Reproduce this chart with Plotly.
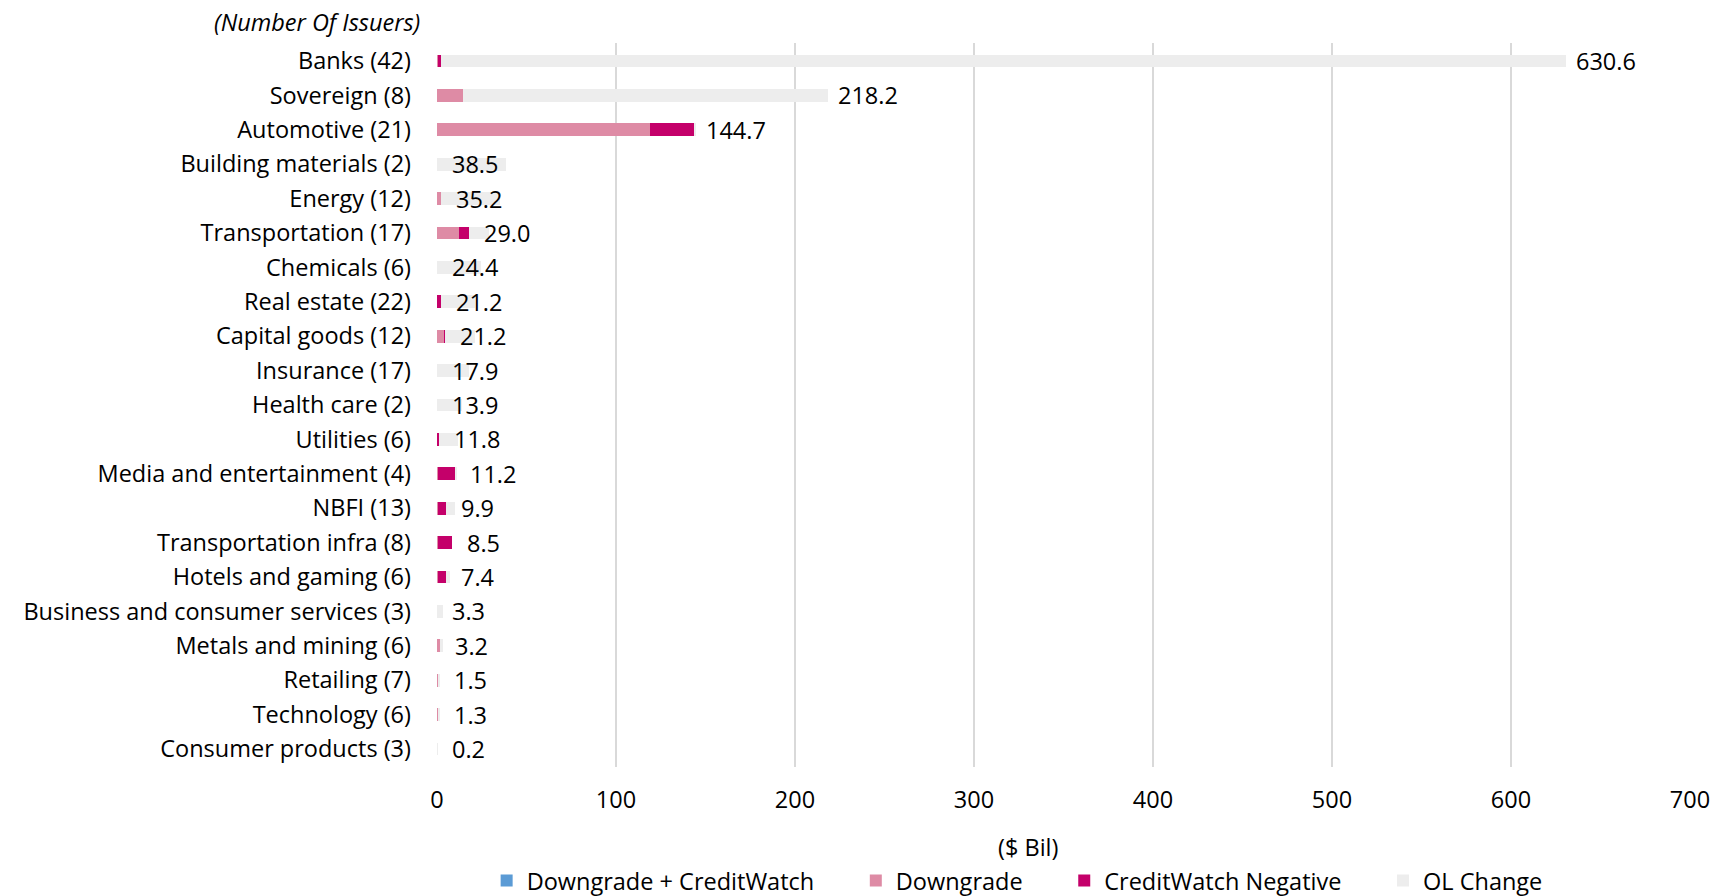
import plotly.graph_objects as go

categories = [
    "Banks (42)", "Sovereign (8)", "Automotive (21)", "Building materials (2)",
    "Energy (12)", "Transportation (17)", "Chemicals (6)", "Real estate (22)",
    "Capital goods (12)", "Insurance (17)", "Health care (2)", "Utilities (6)",
    "Media and entertainment (4)", "NBFI (13)", "Transportation infra (8)",
    "Hotels and gaming (6)", "Business and consumer services (3)",
    "Metals and mining (6)", "Retailing (7)", "Technology (6)",
    "Consumer products (3)",
]
series_names = ["Downgrade + CreditWatch", "Downgrade", "CreditWatch Negative", "OL Change"]
downgrade_cw = [0.0] * 21
downgrade = [0.8, 14.7, 119.0, 0.0, 2.2, 12.5, 0.0, 0.0, 4.0, 0.0, 0.0, 0.0,
             0.8, 0.5, 0.3, 0.8, 0.0, 1.9, 1.0, 1.0, 0.0]
cw_negative = [1.6, 0.0, 24.8, 0.0, 0.0, 5.2, 0.0, 2.0, 0.5, 0.0, 0.0, 1.3,
               9.5, 4.5, 8.2, 4.5, 0.0, 0.0, 0.0, 0.0, 0.0]
ol_change = [628.2, 203.5, 0.9, 38.5, 33.0, 11.3, 24.4, 19.2, 16.7, 17.9, 13.9,
             10.5, 0.9, 4.9, 0.0, 2.1, 3.3, 1.3, 0.5, 0.3, 0.2]
totals = [630.6, 218.2, 144.7, 38.5, 35.2, 29.0, 24.4, 21.2, 21.2, 17.9, 13.9,
          11.8, 11.2, 9.9, 8.5, 7.4, 3.3, 3.2, 1.5, 1.3, 0.2]
x_ticks = [0, 100, 200, 300, 400, 500, 600, 700]

FONT = "Open Sans"
FS = 23.5
series_colors = ["#5B9BD5", "#DE8BA5", "#C4006A", "#EDEDED"]

fig = go.Figure()
all_vals = [downgrade_cw, downgrade, cw_negative, ol_change]
for i, (name, vals, col) in enumerate(zip(series_names, all_vals, series_colors)):
    pad = "\u00a0" * 6 if i < len(series_names) - 1 else ""
    fig.add_trace(go.Bar(y=categories, x=vals, name=name + pad, orientation="h",
                         marker=dict(color=col, line=dict(width=0))))

annotations = []
for cat, tot, d, c in zip(categories, totals, downgrade, cw_negative):
    big = tot > 100
    base = tot if big else d + c
    annotations.append(dict(x=base, y=cat, xref="x", yref="y", text=f"{tot:.1f}",
                            showarrow=False, xanchor="left", xshift=8 if big else 13,
                            font=dict(family=FONT, size=FS, color="#000000")))
annotations.append(dict(x=-0.012, y=1.029, xref="paper", yref="paper",
                        text="<i>(Number Of Issuers)</i>", showarrow=False,
                        xanchor="right", yanchor="middle",
                        font=dict(family=FONT, size=FS, color="#000000")))
annotations.append(dict(x=0.472, y=-0.110, xref="paper", yref="paper",
                        text="($ Bil)", showarrow=False,
                        xanchor="center", yanchor="middle",
                        font=dict(family=FONT, size=FS, color="#000000")))

fig.update_layout(
    barmode="stack",
    bargap=0.63,
    width=1719, height=896,
    margin=dict(l=437, r=29, t=43, b=129, autoexpand=False),
    paper_bgcolor="white", plot_bgcolor="white",
    font=dict(family=FONT, size=FS, color="#000000"),
    annotations=annotations,
    legend=dict(orientation="h", x=0.463, y=-0.157, xanchor="center",
                yanchor="middle", font=dict(family=FONT, size=FS),
                traceorder="normal", itemwidth=30),
    showlegend=True,
)
fig.update_xaxes(range=[0, 700], tickvals=x_ticks, showgrid=True,
                 gridcolor="#D9D9D9", gridwidth=2, zeroline=False,
                 showline=False, ticks="", ticklabelstandoff=16,
                 tickfont=dict(family=FONT, size=FS))
fig.update_yaxes(autorange="reversed", showgrid=False, showline=False,
                 ticks="", ticklabelstandoff=25,
                 tickfont=dict(family=FONT, size=FS))

fig.write_html("out.html")
